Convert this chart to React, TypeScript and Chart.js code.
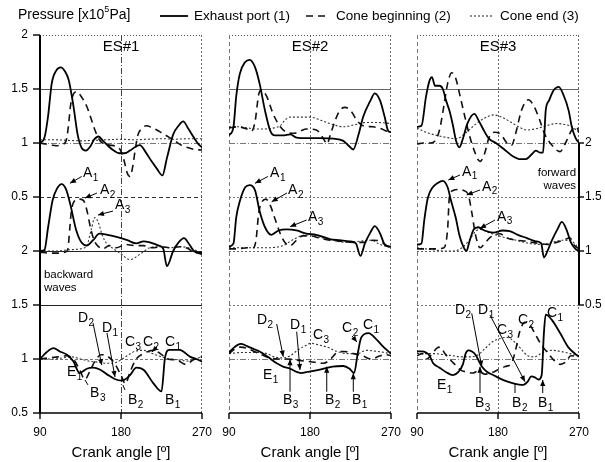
import React, { useEffect, useRef } from "react";
import { Chart, registerables } from "chart.js";

Chart.register(...registerables);

type Pt = [number, number];

// ---------------- labels / categories ----------------
const panelTitles = ["ES#1", "ES#2", "ES#3"];
const seriesNames = ["Exhaust port (1)", "Cone beginning (2)", "Cone end (3)"];
const angleTicks = [90, 180, 270];
const pressureTicks = [0.5, 1, 1.5, 2];
// shift of each stacked section on the common vertical scale
const offPressure = 1.5;
const offForward = 0.5;
const offBackward = -0.5;

// ---------------- ES#1 ----------------
const es1PressurePort: Pt[] = [[90,1.0],[95,1.05],[99,1.25],[103,1.55],[108,1.67],[113,1.70],[118,1.66],[122,1.58],[127,1.35],[132,1.07],[136,0.96],[141,0.93],[146,0.97],[150,1.03],[155,1.06],[160,1.02],[166,0.97],[172,0.93],[178,0.905],[184,0.905],[190,0.93],[197,0.97],[201,0.98],[207,0.92],[214,0.83],[220,0.76],[226,0.70],[231,0.86],[238,1.08],[244,1.16],[249,1.20],[255,1.13],[261,1.05],[266,0.99],[270,0.96]];
const es1PressureBegin: Pt[] = [[90,1.0],[97,0.99],[103,0.98],[108,0.975],[114,0.985],[119,1.02],[121.5,1.15],[124,1.35],[127,1.45],[130.7,1.475],[135,1.44],[141.9,1.34],[147,1.22],[151,1.12],[156.7,1.02],[162,0.99],[168,0.98],[174,0.97],[179,0.94],[183,0.85],[187,0.72],[190,0.69],[193,0.78],[196,0.95],[199,1.08],[203,1.13],[208,1.16],[215,1.14],[223,1.105],[230,1.07],[238,1.03],[245,0.99],[253,0.96],[262,0.94],[270,0.935]];
const es1PressureEnd: Pt[] = [[90,1.03],[105,1.03],[120,1.025],[135,1.02],[150,1.025],[165,1.03],[180,1.035],[195,1.03],[210,1.035],[225,1.04],[240,1.035],[255,1.04],[270,1.04]];
const es1ForwardPort: Pt[] = [[90,1.0],[95,1.01],[99,1.22],[104,1.47],[109,1.58],[114,1.62],[119,1.57],[124,1.42],[130,1.2],[136,1.08],[142,1.05],[149,1.10],[156,1.16],[165,1.15],[175,1.13],[187,1.10],[197,1.07],[205,1.09],[212,1.08],[222,1.05],[227,1.02],[231,0.86],[238,1.0],[244,1.08],[250,1.12],[256,1.06],[261,1.0],[270,0.97]];
const es1ForwardBegin: Pt[] = [[90,0.99],[100,0.98],[110,0.98],[118,0.99],[121,1.02],[123,1.2],[125,1.38],[128,1.46],[133,1.48],[138,1.47],[142,1.38],[146,1.22],[150,1.1],[155,1.04],[160,1.02],[167,1.05],[175,1.03],[185,1.06],[195,1.05],[205,1.05],[215,1.03],[225,1.04],[235,1.03],[245,1.04],[255,1.02],[262,0.98],[270,0.99]];
const es1ForwardEnd: Pt[] = [[90,1.0],[100,1.0],[110,1.0],[120,1.01],[135,1.02],[142,1.05],[147,1.2],[151,1.31],[155,1.26],[159,1.15],[164,1.07],[170,1.03],[179,0.98],[190,0.92],[201,0.97],[212,1.03],[222,1.04],[234,1.03],[245,1.04],[255,1.03],[265,1.0],[270,0.98]];
const es1BackwardPort: Pt[] = [[90,1.0],[97,1.06],[105,1.10],[112,1.07],[120,1.04],[127,0.98],[134,0.87],[142,0.91],[149,0.92],[157,0.90],[164,0.86],[173,0.815],[181,0.80],[190,0.85],[197,0.92],[205,0.90],[216,0.775],[225,0.70],[229,1.02],[234,1.085],[245,1.085],[257,1.02],[264,1.0],[270,0.975]];
const es1BackwardBegin: Pt[] = [[90,1.0],[100,1.01],[110,1.02],[120,1.03],[128,0.99],[134,0.9],[140,0.81],[145,0.88],[151,0.98],[158,1.04],[164,1.03],[172,0.97],[180,0.85],[185,0.77],[190,0.88],[197,1.0],[205,1.05],[215,1.08],[222,1.06],[232,1.0],[242,0.99],[252,0.95],[260,0.99],[270,1.02]];
const es1BackwardEnd: Pt[] = [[90,1.0],[105,1.0],[115,1.01],[125,1.02],[135,1.0],[145,0.98],[155,0.97],[165,0.96],[175,0.97],[185,1.02],[195,1.07],[205,1.08],[215,1.05],[225,1.02],[235,1.0],[245,0.99],[255,0.98],[262,1.0],[270,1.02]];

// ---------------- ES#2 ----------------
const es2PressurePort: Pt[] = [[90,1.07],[95,1.15],[98,1.43],[102,1.64],[108,1.75],[113,1.77],[119,1.70],[124,1.55],[130,1.30],[136,1.11],[141,1.07],[150,1.07],[158,1.08],[165,1.05],[176,1.045],[191,1.045],[206,1.04],[217,1.02],[223,0.975],[228,0.94],[234,1.08],[239,1.24],[247,1.39],[252,1.46],[258,1.39],[263,1.24],[267,1.11],[270,1.10]];
const es2PressureBegin: Pt[] = [[90,1.14],[100,1.15],[110,1.13],[115,1.11],[119,1.2],[123,1.45],[126,1.49],[132,1.43],[139,1.27],[147,1.15],[154,1.10],[162,1.09],[169,1.11],[176,1.13],[187,1.12],[195,1.04],[199,0.99],[202,1.06],[208,1.21],[213,1.30],[219,1.33],[226,1.29],[232,1.21],[239,1.16],[250,1.15],[260,1.13],[265,1.11],[270,1.11]];
const es2PressureEnd: Pt[] = [[90,1.15],[100,1.15],[110,1.14],[120,1.13],[130,1.13],[140,1.14],[147,1.16],[152,1.21],[158,1.24],[170,1.24],[180,1.24],[192,1.21],[202,1.18],[217,1.15],[230,1.17],[243,1.19],[255,1.19],[270,1.18]];
const es2ForwardPort: Pt[] = [[90,1.04],[95,1.07],[98,1.31],[102,1.46],[108,1.59],[113,1.61],[119,1.56],[124,1.37],[130,1.22],[137,1.15],[145,1.19],[154,1.20],[165,1.19],[176,1.16],[187,1.15],[202,1.11],[213,1.10],[224,1.09],[231,1.07],[236,0.955],[241,1.07],[247,1.17],[252,1.23],[258,1.16],[263,1.06],[270,1.04]];
const es2ForwardBegin: Pt[] = [[90,1.02],[100,1.02],[110,1.03],[117,1.03],[120,1.1],[123,1.35],[127,1.46],[131,1.48],[136,1.42],[141,1.3],[147,1.16],[152,1.08],[158,1.05],[165,1.1],[172,1.14],[180,1.14],[190,1.12],[202,1.10],[215,1.09],[228,1.08],[240,1.08],[250,1.1],[258,1.09],[265,1.05],[270,1.02]];
const es2ForwardEnd: Pt[] = [[90,1.03],[110,1.03],[130,1.03],[150,1.05],[160,1.1],[170,1.14],[180,1.15],[190,1.13],[205,1.10],[220,1.08],[235,1.09],[248,1.1],[258,1.06],[270,1.03]];
const es2BackwardPort: Pt[] = [[90,1.06],[96,1.11],[103,1.14],[110,1.12],[118,1.09],[124,1.07],[133,1.02],[143,0.96],[150,0.93],[158,0.91],[165,0.88],[170,0.87],[177,0.88],[184,0.89],[195,0.91],[205,0.93],[217,0.935],[224,0.91],[229,0.87],[233,1.05],[237,1.2],[245,1.24],[254,1.18],[263,1.10],[270,1.05]];
const es2BackwardBegin: Pt[] = [[90,1.05],[96,1.09],[103,1.11],[110,1.1],[118,1.07],[126,1.04],[135,1.01],[145,1.0],[155,1.0],[165,0.99],[175,0.98],[185,0.97],[195,0.96],[203,1.0],[210,1.06],[218,1.07],[228,1.05],[238,1.03],[248,1.0],[258,1.03],[265,1.04],[270,1.03]];
const es2BackwardEnd: Pt[] = [[90,1.05],[105,1.06],[120,1.06],[132,1.05],[140,1.02],[150,1.01],[158,1.03],[166,1.08],[174,1.12],[181,1.145],[190,1.13],[199,1.11],[210,1.07],[222,1.05],[232,1.05],[243,1.08],[255,1.07],[270,1.05]];

// ---------------- ES#3 ----------------
const es3PressurePort: Pt[] = [[90,1.15],[95,1.16],[100,1.43],[104,1.58],[106.6,1.61],[110,1.53],[115,1.53],[118.7,1.50],[122.4,1.39],[126,1.30],[130,1.16],[133.4,1.02],[137,0.96],[141,1.04],[146,1.18],[153.7,1.27],[159,1.20],[164.7,1.11],[170,1.04],[177.6,1.0],[187,0.94],[196,0.88],[205,0.85],[211,0.85],[218,0.90],[222,0.93],[227,0.91],[230,0.91],[231.7,1.11],[233,1.30],[236.5,1.39],[242,1.49],[247.5,1.52],[253,1.44],[258.5,1.30],[262,1.15],[266,1.05],[270,1.0]];
const es3PressureBegin: Pt[] = [[90,0.99],[97,1.0],[105,1.0],[110,1.02],[115,1.12],[120,1.35],[124,1.55],[128.6,1.65],[133,1.6],[138,1.43],[143,1.25],[148,1.08],[154,0.92],[160,0.83],[165,0.9],[170,1.05],[176,1.1],[183,1.08],[190,1.0],[195,0.98],[200,1.1],[206,1.3],[213.7,1.40],[220,1.34],[226,1.22],[232,1.08],[240,0.98],[249,0.92],[255,1.0],[262,1.12],[267,1.15],[270,1.10]];
const es3PressureEnd: Pt[] = [[90,1.14],[100,1.10],[112,1.07],[124,1.05],[134,1.04],[145,1.10],[156,1.18],[165,1.23],[175,1.26],[184,1.24],[193,1.20],[203,1.15],[212,1.12],[221,1.13],[230,1.15],[245,1.18],[255,1.17],[262,1.15],[270,1.10]];
const es3ForwardPort: Pt[] = [[90,1.06],[95,1.07],[98,1.28],[102,1.49],[107.5,1.59],[113,1.63],[118.7,1.65],[124,1.59],[128,1.46],[133,1.31],[137,1.15],[141,1.05],[145,1.0],[148,1.08],[153,1.2],[158,1.22],[165,1.19],[175,1.17],[185,1.19],[193,1.185],[202,1.15],[212,1.12],[222,1.09],[228,1.07],[231,0.94],[235,1.0],[240,1.1],[246,1.2],[251,1.27],[256,1.2],[261,1.08],[266,1.02],[270,1.0]];
const es3ForwardBegin: Pt[] = [[90,1.02],[100,1.02],[110,1.02],[120,1.03],[124,1.2],[126,1.5],[130,1.56],[136,1.57],[142,1.56],[147,1.52],[151,1.35],[155,1.15],[160,1.03],[166,1.08],[172,1.13],[182,1.16],[190,1.12],[200,1.1],[212,1.09],[225,1.07],[235,1.06],[245,1.08],[252,1.1],[260,1.12],[265,1.05],[270,1.02]];
const es3ForwardEnd: Pt[] = [[90,1.03],[100,1.02],[110,1.01],[120,1.0],[130,1.0],[140,1.03],[148,1.1],[155,1.18],[160,1.2],[170,1.17],[185,1.13],[200,1.1],[215,1.07],[228,1.06],[240,1.08],[252,1.1],[262,1.09],[270,1.02]];
const es3BackwardPort: Pt[] = [[90,1.07],[95,1.07],[100,1.06],[104,1.03],[108,0.96],[115,0.92],[122,0.88],[130,0.85],[136,0.88],[141,0.95],[144,1.05],[147,1.08],[151,1.07],[155,1.04],[162,0.93],[168,0.88],[175,0.85],[186,0.805],[197,0.775],[208,0.76],[213,0.79],[217,0.84],[221,0.83],[225,0.81],[228.5,0.85],[231,1.24],[233,1.41],[240,1.36],[249,1.24],[258,1.11],[265.5,1.05],[270,1.02]];
const es3BackwardBegin: Pt[] = [[90,1.03],[96,1.05],[101,1.0],[106,1.04],[112,1.1],[116,1.11],[121,1.05],[126,1.0],[132,0.95],[138,0.9],[145,0.88],[152,0.87],[158,0.89],[165,0.86],[172,0.87],[180,0.9],[188,0.93],[195,0.96],[200,1.1],[204,1.25],[210,1.34],[216,1.31],[222,1.22],[229,1.12],[235,1.06],[242,0.99],[249,0.95],[255,0.97],[261,1.03],[270,1.02]];
const es3BackwardEnd: Pt[] = [[90,1.05],[100,1.05],[110,1.05],[120,1.04],[130,1.03],[140,1.02],[150,1.02],[158,1.04],[166,1.1],[174,1.16],[182,1.19],[190,1.2],[198,1.16],[206,1.09],[213,1.03],[220,1.02],[230,1.06],[240,1.08],[250,1.07],[260,1.05],[270,1.03]];

// ---------------- annotations: [letter, subscript, angle, level on stacked scale] ----------------
type Lab = [string, string, number, number];
type Arr = [number, number, number, number, number];
const labelsES1: Lab[] = [["A","1",137.8,2.22],["A","2",156.7,2.065],["A","3",173.3,1.926],["D","2",132.2,0.88],["D","1",158.9,0.787],["C","3",184.4,0.657],["C","2",204.4,0.657],["C","1",228.9,0.657],["E","1",120,0.38],["B","3",145.6,0.185],["B","2",187.8,0.12],["B","1",228.9,0.12]];
const arrowsES1: Arr[] = [[136.3,2.19,123.3,2.127,1],[153.3,2.037,140,1.99,1],[171.1,1.87,154.4,1.833,1],[148.9,0.833,158.6,0.444,1],[164.4,0.741,173.3,0.333,1],[220,0.611,214.4,0.565,1],[143.3,0.26,140,0.306,0],[184.4,0.213,182.2,0.259,0]];
const labelsES2: Lab[] = [["A","1",135.6,2.22],["A","2",155.6,2.065],["A","3",177.8,1.815],["D","2",121.1,0.861],["D","1",157.8,0.815],["C","3",183.3,0.722],["C","2",215.6,0.787],["C","1",238.9,0.815],["E","1",127.8,0.352],["B","3",150,0.12],["B","2",196.7,0.12],["B","1",226.7,0.12]];
const arrowsES2: Arr[] = [[133.3,2.19,118.9,2.127,1],[154.4,2.037,137.4,1.956,1],[176.3,1.787,157.8,1.725,1],[143,0.824,150.3,0.521,1],[165.2,0.753,168.9,0.398,1],[157.8,0.197,157.8,0.497,1],[198.6,0.197,198.6,0.429,1],[228.1,0.197,228.1,0.368,1],[226.7,0.713,232.2,0.657,1]];
const labelsES3: Lab[] = [["A","1",140,2.234],["A","2",162.2,2.095],["A","3",178.9,1.818],["D","2",132.2,0.954],["D","1",157.8,0.954],["C","3",178.9,0.769],["C","2",202.2,0.861],["C","1",234.4,0.926],["E","1",112.2,0.259],["B","3",154.4,0.093],["B","2",195.6,0.093],["B","1",224.4,0.093]];
const arrowsES3: Arr[] = [[137.8,2.204,124.8,2.157,1],[160,2.065,145.2,2.019,1],[176.7,1.787,160,1.71,1],[150.8,0.923,161.9,0.429,1],[171.1,0.907,210,0.29,1],[160,0.185,160,0.429,1],[198.9,0.185,198.9,0.278,0],[229.7,0.185,229.7,0.306,1]];

const panelData = [
  { sections: [[es1PressurePort, es1PressureBegin, es1PressureEnd], [es1ForwardPort, es1ForwardBegin, es1ForwardEnd], [es1BackwardPort, es1BackwardBegin, es1BackwardEnd]], labels: labelsES1, arrows: arrowsES1 },
  { sections: [[es2PressurePort, es2PressureBegin, es2PressureEnd], [es2ForwardPort, es2ForwardBegin, es2ForwardEnd], [es2BackwardPort, es2BackwardBegin, es2BackwardEnd]], labels: labelsES2, arrows: arrowsES2 },
  { sections: [[es3PressurePort, es3PressureBegin, es3PressureEnd], [es3ForwardPort, es3ForwardBegin, es3ForwardEnd], [es3BackwardPort, es3BackwardBegin, es3BackwardEnd]], labels: labelsES3, arrows: arrowsES3 },
];
const sectionOffsets = [offPressure, offForward, offBackward];

// ---------------- layout & styles ----------------
const W = 605, H = 462;
const panelLeft = [40, 229, 417];
const panelW = 162;
const plotTop = 35, plotBottom = 413;
const FONT = '"Liberation Sans", Arial, Helvetica, sans-serif';
const seriesStyle = [
  { color: "#000", width: 1.8, dash: [] as number[] },
  { color: "#111", width: 1.6, dash: [7, 5] },
  { color: "#333", width: 1.1, dash: [2, 2] },
];
type GS = { c: string; d: number[]; w?: number };
const gridP1: GS[] = [{ c: "#777", d: [3, 2] }, { c: "#222", d: [] }, { c: "#222", d: [] }, { c: "#333", d: [4, 3] }, { c: "#777", d: [6, 2, 1, 2] }, { c: "#555", d: [] }];
const gridP23: GS[] = [{ c: "#777", d: [6, 2, 1, 2] }, { c: "#777", d: [2, 2] }, { c: "#666", d: [2, 2] }, { c: "#777", d: [2, 2] }, { c: "#777", d: [6, 2, 1, 2] }, { c: "#666", d: [] }];

function seg(ctx: CanvasRenderingContext2D, x1: number, y1: number, x2: number, y2: number, color = "#000", width = 1, dash: number[] = []) {
  ctx.save();
  ctx.beginPath();
  ctx.strokeStyle = color;
  ctx.lineWidth = width;
  ctx.setLineDash(dash);
  ctx.moveTo(x1, y1);
  ctx.lineTo(x2, y2);
  ctx.stroke();
  ctx.restore();
}

function arrow(ctx: CanvasRenderingContext2D, x1: number, y1: number, x2: number, y2: number, head: boolean) {
  seg(ctx, x1, y1, x2, y2, "#000", 1);
  if (!head) return;
  const a = Math.atan2(y2 - y1, x2 - x1);
  const L = 6, hw = 2.6;
  const bx = x2 - L * Math.cos(a), by = y2 - L * Math.sin(a);
  ctx.save();
  ctx.fillStyle = "#000";
  ctx.beginPath();
  ctx.moveTo(x2, y2);
  ctx.lineTo(bx + hw * Math.sin(a), by - hw * Math.cos(a));
  ctx.lineTo(bx - hw * Math.sin(a), by + hw * Math.cos(a));
  ctx.closePath();
  ctx.fill();
  ctx.restore();
}

function subLabel(ctx: CanvasRenderingContext2D, x: number, y: number, main: string, sub: string) {
  ctx.save();
  ctx.fillStyle = "#000";
  ctx.textAlign = "left";
  ctx.textBaseline = "middle";
  ctx.font = `14px ${FONT}`;
  ctx.fillText(main, x, y);
  const w = ctx.measureText(main).width;
  ctx.font = `10px ${FONT}`;
  ctx.fillText(sub, x + w + 0.5, y + 5);
  ctx.restore();
}

function makeDecor(p: number) {
  return {
    id: "decor" + p,
    beforeDatasetsDraw(chart: any) {
      const { ctx, chartArea: ca, scales } = chart;
      const x = scales.x, y = scales.y;
      const gs = p === 0 ? gridP1 : gridP23;
      for (let i = 1; i <= 6; i++) {
        const py = Math.round(y.getPixelForValue(i * 0.5)) + 0.5;
        seg(ctx, ca.left, py, ca.right, py, gs[i - 1].c, 1, gs[i - 1].d);
      }
      const vx = Math.round(x.getPixelForValue(180)) + 0.5;
      seg(ctx, vx, ca.top, vx, ca.bottom, p === 0 ? "#444" : "#666", 1, p === 0 ? [6, 2, 1, 2] : [2, 2]);
      // frame
      seg(ctx, ca.left, ca.top + 0.5, ca.right, ca.top + 0.5, "#555", 1, [1, 2]);
      seg(ctx, ca.right - 0.5, ca.top, ca.right - 0.5, ca.bottom, "#666", 1, [2, 2]);
      if (p > 0) seg(ctx, ca.left + 0.5, ca.top, ca.left + 0.5, ca.bottom, "#777", 1, [4, 3]);
    },
    afterDatasetsDraw(chart: any) {
      const { ctx, chartArea: ca, scales } = chart;
      const x = scales.x, y = scales.y;
      ctx.save();
      // bottom axis
      const by = y.getPixelForValue(0);
      seg(ctx, ca.left, by, ca.right, by, "#000", 1.6);
      ctx.fillStyle = "#000";
      ctx.font = `12px ${FONT}`;
      ctx.textAlign = "center";
      ctx.textBaseline = "middle";
      for (const a of angleTicks) {
        const px = x.getPixelForValue(a);
        seg(ctx, px, by, px, by + 6, "#000", 1.4);
        ctx.fillText(String(a), px, by + 20);
      }
      ctx.font = `15px ${FONT}`;
      ctx.fillText("Crank angle [º]", (ca.left + ca.right) / 2, by + 40);
      // left axis (first panel)
      if (p === 0) {
        seg(ctx, ca.left, ca.top, ca.left, ca.bottom, "#000", 2);
        ctx.font = `12px ${FONT}`;
        ctx.textAlign = "right";
        for (const off of [offPressure, offBackward]) {
          for (const v of pressureTicks) {
            const py = y.getPixelForValue(v + off);
            seg(ctx, ca.left - 7, py, ca.left, py, "#000", 1.4);
            ctx.fillText(String(v), ca.left - 12, py);
          }
        }
        ctx.textAlign = "left";
        ctx.font = `11.5px ${FONT}`;
        ctx.fillText("backward", x.getPixelForValue(94.4), y.getPixelForValue(1.278));
        ctx.fillText("waves", x.getPixelForValue(94.4), y.getPixelForValue(1.157));
      }
      // right axis (last panel)
      if (p === 2) {
        const t = y.getPixelForValue(pressureTicks[pressureTicks.length - 1] + offForward);
        const b = y.getPixelForValue(pressureTicks[0] + offForward);
        seg(ctx, ca.right, t, ca.right, b, "#000", 2);
        ctx.font = `12px ${FONT}`;
        ctx.textAlign = "left";
        for (const v of pressureTicks) {
          const py = y.getPixelForValue(v + offForward);
          seg(ctx, ca.right, py, ca.right + 5, py, "#000", 1.4);
          ctx.fillText(String(v), ca.right + 6, py);
        }
        ctx.textAlign = "right";
        ctx.font = `11.5px ${FONT}`;
        ctx.fillText("forward", x.getPixelForValue(266.7), y.getPixelForValue(2.222));
        ctx.fillText("waves", x.getPixelForValue(266.7), y.getPixelForValue(2.102));
      }
      // panel title
      ctx.textAlign = "center";
      ctx.font = `15px ${FONT}`;
      ctx.fillText(panelTitles[p], x.getPixelForValue(180), y.getPixelForValue(3.39));
      // annotations
      const pd = panelData[p];
      for (const [a1, s1, a2, s2, h] of pd.arrows) {
        arrow(ctx, x.getPixelForValue(a1), y.getPixelForValue(s1), x.getPixelForValue(a2), y.getPixelForValue(s2), h === 1);
      }
      for (const [m, s, a, lv] of pd.labels) {
        subLabel(ctx, x.getPixelForValue(a), y.getPixelForValue(lv), m, s);
      }
      // title + legend (drawn once)
      if (p === 0) {
        ctx.textAlign = "left";
        ctx.textBaseline = "middle";
        ctx.font = `14px ${FONT}`;
        let tx = 18;
        const ty = 15;
        ctx.fillText("Pressure [x10", tx, ty);
        tx += ctx.measureText("Pressure [x10").width;
        ctx.font = `9px ${FONT}`;
        ctx.fillText("5", tx, ty - 5);
        tx += ctx.measureText("5").width;
        ctx.font = `14px ${FONT}`;
        ctx.fillText("Pa]", tx, ty);
        const samples = [[160, 188, 194], [306, 326, 336], [470, 492, 500]];
        for (let i = 0; i < 3; i++) {
          const [s1, s2, txx] = samples[i];
          seg(ctx, s1, ty + 1, s2, ty + 1, seriesStyle[i].color, seriesStyle[i].width, seriesStyle[i].dash);
          ctx.font = `13.5px ${FONT}`;
          ctx.fillStyle = "#000";
          ctx.fillText(seriesNames[i], txx, ty + 1);
        }
      }
      ctx.restore();
    },
  };
}

function buildConfig(p: number): any {
  const datasets: any[] = [];
  panelData[p].sections.forEach((series, si) => {
    series.forEach((pts, k) => {
      datasets.push({
        label: seriesNames[k],
        data: pts.map(([a, v]) => ({ x: a, y: v + sectionOffsets[si] })),
        borderColor: seriesStyle[k].color,
        borderWidth: seriesStyle[k].width,
        borderDash: seriesStyle[k].dash,
        pointRadius: 0,
        fill: false,
        cubicInterpolationMode: "monotone",
      });
    });
  });
  const left = panelLeft[p];
  return {
    type: "line",
    data: { datasets },
    options: {
      responsive: false,
      animation: false,
      events: [],
      layout: { padding: { left, right: W - (left + panelW), top: plotTop, bottom: H - plotBottom } },
      plugins: { legend: { display: false }, tooltip: { enabled: false }, title: { display: false } },
      scales: {
        x: { type: "linear", min: 90, max: 270, display: false },
        y: { type: "linear", min: 0, max: 3.5, display: false },
      },
    },
    plugins: [makeDecor(p)],
  };
}

export default function App() {
  const refs = useRef<(HTMLCanvasElement | null)[]>([]);
  useEffect(() => {
    const charts = [0, 1, 2].map((p) => new Chart(refs.current[p] as HTMLCanvasElement, buildConfig(p)));
    return () => charts.forEach((c) => c.destroy());
  }, []);
  return (
    <div style={{ position: "absolute", left: 0, top: 0, width: W, height: H, background: "#fff", overflow: "hidden" }}>
      {[0, 1, 2].map((p) => (
        <canvas
          key={p}
          ref={(el) => { refs.current[p] = el; }}
          width={W}
          height={H}
          style={{ position: "absolute", left: 0, top: 0, width: W, height: H }}
        />
      ))}
    </div>
  );
}
